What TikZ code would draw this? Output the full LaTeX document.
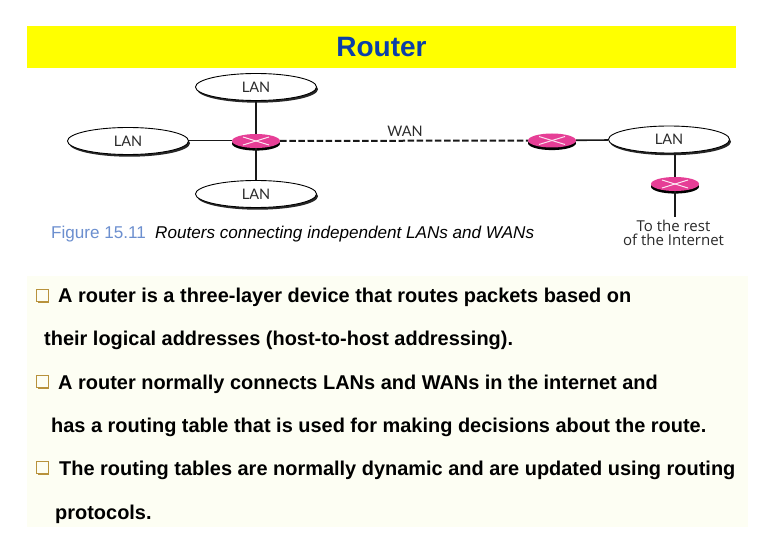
\documentclass[tikz,border=0pt]{standalone}
\usepackage{fontspec}
\setmainfont{Liberation Sans}
\newfontfamily\lanfont{Lato}
\newfontfamily\restfont{Open Sans}
\usetikzlibrary{shapes.geometric,shadows}
\definecolor{bandyellow}{HTML}{FFFF00}
\definecolor{titleblue}{HTML}{0B3FA8}
\definecolor{palebg}{HTML}{FDFEF3}
\definecolor{pinkr}{HTML}{E63E96}
\definecolor{capblue}{HTML}{6C8FCF}
\definecolor{bulletgold}{HTML}{B8923C}
\definecolor{lblgray}{HTML}{2A2A2A}
\tikzset{
  x=1pt,y=-1pt,
  lan/.style={ellipse,draw=black,line width=0.9pt,fill=white,minimum width=121pt,minimum height=27pt,inner sep=0pt,
    copy shadow={shadow xshift=1.5pt,shadow yshift=-2.2pt,fill=black!85,draw=none},
    font=\lanfont\fontsize{14.5}{15}\selectfont,text=lblgray},
  router/.style={ellipse,draw=none,fill=pinkr,minimum width=48pt,minimum height=14pt,inner sep=0pt,
    copy shadow={shadow xshift=0pt,shadow yshift=-2.6pt,fill=black,draw=none}},
  xmark/.style={draw=white!85!pinkr,line width=1pt},
  thick link/.style={draw=black!90,line width=1.6pt},
  thin link/.style={draw=black!90,line width=1pt},
  wan link/.style={draw=black!90,line width=2pt,dash pattern=on 6.5pt off 2.6pt},
  body/.style={anchor=base west,inner sep=0pt,font=\bfseries\fontsize{19.95}{22}\selectfont},
  bullet box/.style={draw=bulletgold,line width=1.3pt,fill=palebg,minimum width=11.5pt,minimum height=11.5pt,inner sep=0pt,
    copy shadow={shadow xshift=1.2pt,shadow yshift=-1.4pt,fill=bulletgold,draw=none}},
  small/.style={font=\restfont\fontsize{15}{16}\selectfont,text=lblgray,inner sep=0pt}
}
\begin{document}
\begin{tikzpicture}
\useasboundingbox (0,0) rectangle (780,540);
\fill[white] (0,0) rectangle (780,540);
\fill[bandyellow] (27,26) rectangle (736,68);
\node[inner sep=0pt,text=titleblue,font=\bfseries\fontsize{28}{30}\selectfont] (title) at (381.5,47) {Router};
\fill[palebg] (27,276) rectangle (748,527);

\node[lan] (lantop) at (256,87) {LAN};
\node[lan] (lanleft) at (128,141) {LAN};
\node[lan] (lanbot) at (256,194) {LAN};
\node[lan] (lanright) at (669,139.5) {LAN};
\node[router] (r1) at (256,141) {};
\node[router] (r2) at (552,140.5) {};
\node[router] (r3) at (675,184) {};
\foreach \r in {r1,r2,r3}{
  \draw[xmark] ([shift={(-13,-4)}]\r.center) -- ([shift={(13,4)}]\r.center);
  \draw[xmark] ([shift={(-13,4)}]\r.center) -- ([shift={(13,-4)}]\r.center);
}
\coordinate (rest) at (675,217);
\draw[thick link] (lantop) -- (r1);
\draw[thick link] (lanbot) -- (r1);
\draw[thin link] (lanleft) -- (r1);
\draw[wan link] (r1) -- (r2);
\draw[thick link] (r2) -- (lanright);
\draw[thick link] (lanright.south -| r3) -- (r3);
\draw[thick link] (r3) -- (rest);
\node[inner sep=0pt,font=\lanfont\fontsize{14.5}{15}\selectfont,text=lblgray] (wan) at (405,131) {WAN};
\node[small] (to1) at (673.5,226) {To the rest};
\node[small] (to2) at (673.5,240) {of the Internet};

\node[anchor=base west,inner sep=0pt,font=\fontsize{17.1}{19}\selectfont,text=capblue] (figno) at (51,238.5) {Figure 15.11};
\node[anchor=base west,inner sep=0pt,font=\itshape\fontsize{17.1}{19}\selectfont] (figcap) at (155,238.5) {Routers connecting independent LANs and WANs};

\node[bullet box] (b1) at (42.5,295.5) {};
\node[bullet box] (b2) at (42.5,381.5) {};
\node[bullet box] (b3) at (42.5,467.5) {};
\node[body] (t1) at (58,303) {A router is a three-layer device that routes packets based on};
\node[body] (t2) at (44,346) {their logical addresses (host-to-host addressing).};
\node[body] (t3) at (58,389) {A router normally connects LANs and WANs in the internet and};
\node[body] (t4) at (51,432) {has a routing table that is used for making decisions about the route.};
\node[body] (t5) at (59,475) {The routing tables are normally dynamic and are updated using routing};
\node[body] (t6) at (55,519) {protocols.};
\end{tikzpicture}
\end{document}
